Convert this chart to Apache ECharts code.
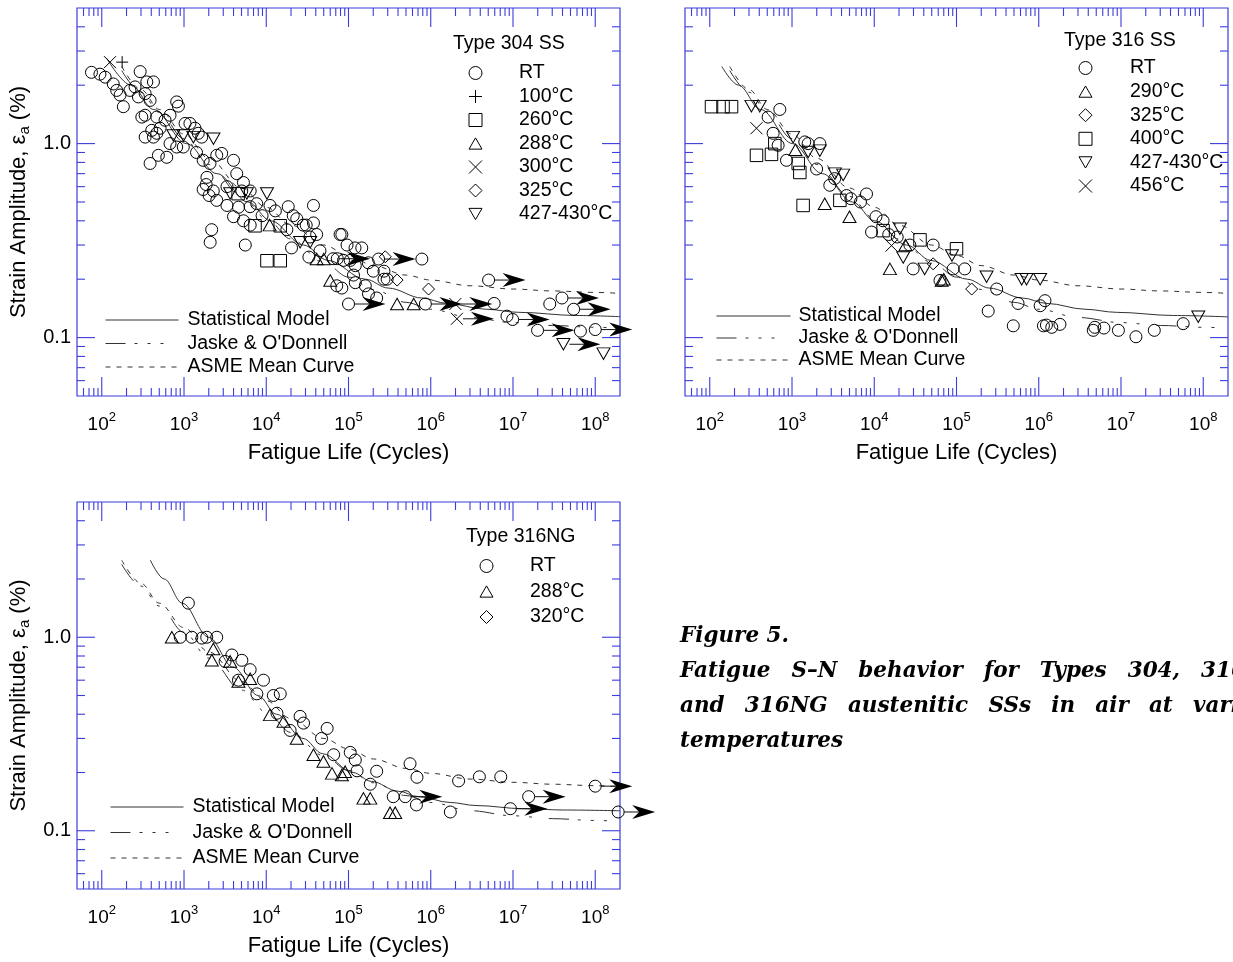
<!DOCTYPE html>
<html>
<head>
<meta charset="utf-8">
<script src="https://cdn.jsdelivr.net/npm/echarts@6/dist/echarts.min.js"></script>
<style>
html,body{margin:0;padding:0;background:#fff;}
#chart{width:1233px;height:962px;}
</style>
</head>
<body>
<div id="chart"></div>
<script>
// Points are [fatigue life (cycles), strain amplitude (%)]; "Run" arrays are run-outs (drawn with an arrow).

// ---- Type 304 SS ----
const rt304 = [
  [75,2.33],[95,2.28],[110,2.2],[138,2.03],[152,1.88],[167,1.78],[183,1.55],[220,1.88],[254,1.96],[279,1.74],
  [293,2.35],[353,2.08],[425,2.08],[337,1.81],[387,1.67],[337,1.40],[307,1.37],[467,1.37],[405,1.17],[467,1.13],
  [512,1.2],[588,1.32],[676,1.40],[815,1.64],[855,1.56],[1030,1.27],[1180,1.27],[1360,1.2],[1490,1.13],[1640,1.08],
  [980,0.96],[815,0.96],[676,1.0],[617,0.85],[488,0.87],[387,0.79],[337,1.08],[425,1.08],[1420,0.9],[1710,0.82],
  [2070,0.79],[2500,0.87],[2870,0.89],[4000,0.82],[4380,0.7],[1900,0.67],[1710,0.58],[2270,0.57],[3330,0.6],[5040,0.57],
  [6380,0.57],[5280,0.63],[1860,0.615],[2020,0.54],
  [2170,0.36],[2080,0.31],[5560,0.30],[2500,0.51],[3330,0.48],[4000,0.42],[5280,0.40],[4600,0.47],[7660,0.49],[11100,0.48],
  [6380,0.38],[17800,0.36],[23500,0.41],[28200,0.38],[37500,0.48],[37500,0.39],[41000,0.34],[34000,0.33],[20300,0.29],[33000,0.26],
  [79000,0.34],[96000,0.30],[72000,0.185],[83000,0.34],[120000,0.29],[145000,0.29],[87000,0.25],[105000,0.25],[115000,0.21],[83000,0.18],
  [160000,0.185],[175000,0.168],[220000,0.16],[200000,0.22],[270000,0.22],[270000,0.2],[295000,0.2],
  [6370,0.473],[8900,0.425],[12900,0.45],[18500,0.473],[21300,0.425],[30600,0.38],[45000,0.28],[73000,0.255],[121000,0.235],[174000,0.243],[121000,0.192],
  [780000,0.254],[5.9e6,0.15],[8.45e6,0.129],[2.8e7,0.149],[6.6e7,0.108]
];
const rt304Run = [[65000,0.255],[232000,0.254],[100000,0.149],[860000,0.149],[5.05e6,0.198],[9.9e6,0.124],[1.99e7,0.109],[3.94e7,0.16],[5.46e7,0.14],[1.0e8,0.11]];
const t100_304 = [[177,2.63]];
const t260_304 = [[10200,0.249],[14800,0.249],[7300,0.377],[14800,0.377],[4550,0.552]];
const t288_304 = [[390000,0.149],[620000,0.149],[41000,0.254],[60000,0.197],[11000,0.38],[50000,0.254]];
const t300_304 = [[126,2.63]];
const t300_304Run = [[1.99e6,0.149],[2.08e6,0.125]];
const t325_304 = [[390000,0.198],[940000,0.178],[280000,0.261]];
const t427_304 = [[743,1.10],[985,1.10],[1300,1.08],[2280,1.06],[3640,0.553],[5810,0.553],[10200,0.553],[25800,0.31],[34200,0.31],[1.26e8,0.0827]];
const t427_304Run = [[4.1e7,0.0924]];

// ---- Type 316 SS ----
const rt316 = [
  [711,1.5],[512,1.37],[589,1.13],[857,0.82],[1430,1.02],[1570,1.0],[2180,1.0],[1990,0.74],[2880,0.61],[4600,0.54],
  [8050,0.55],[678,0.98],[5200,0.52],[6800,0.5],[3300,0.66],[10500,0.42],[15000,0.34],[19000,0.33],
  [9270,0.35],[12800,0.40],[29700,0.226],[27100,0.30],[52000,0.30],[63000,0.197],[91000,0.226],[126000,0.226],
  [308000,0.178],[243000,0.137],[490000,0.115],[560000,0.150],[1.04e6,0.146],[1.19e6,0.155],[1.14e6,0.115],[1.24e6,0.116],
  [1.44e6,0.113],[1.81e6,0.117],[4.6e6,0.109],[4.8e6,0.113],[6.2e6,0.112],[9.3e6,0.109],[1.52e7,0.101],[2.54e7,0.109],[5.7e7,0.118]
];
const t290_316 = [[2500,0.49],[15500,0.226],[66000,0.197],[1100,0.93],[5000,0.42],[24000,0.3],[70000,0.2]];
const t325_316 = [[153000,0.178],[52000,0.24]];
const t400_316 = [[105,1.55],[145,1.55],[184,1.55],[370,0.87],[563,0.88],[618,1.0],[1190,0.79],[1245,0.71],[1365,0.48],[3820,0.51],[12800,0.356],[36000,0.319],[100000,0.287]];
const t427_316 = [[321,1.56],[405,1.56],[1030,1.08],[1570,0.905],[2180,0.92],[3320,0.70],[4190,0.69],[20500,0.364],[22500,0.259],[41000,0.226],[88000,0.265],[232000,0.206],[620000,0.2],[710000,0.2],[1.04e6,0.2],[8.7e7,0.128]];
const t456_316 = [[370,1.2],[16200,0.298]];

// ---- Type 316NG ----
const rtNG = [
  [1130,1.5],[900,1.0],[1245,1.0],[1650,0.99],[1890,1.0],[2500,1.0],[3820,0.81],[3160,0.75],[5050,0.76],[6370,0.68],
  [9250,0.60],[4590,0.6],[7690,0.51],[14800,0.51],[12200,0.50],[13500,0.405],[25800,0.39],[28400,0.36],[55000,0.338],[47000,0.30],
  [66000,0.247],[19500,0.33],[105000,0.254],[121000,0.232],[127000,0.204],[220000,0.203],[184000,0.174],[560000,0.222],[680000,0.189],
  [350000,0.15],[670000,0.136],[1.73e6,0.125],[2.18e6,0.181],[3.9e6,0.19],[7.1e6,0.19]
];
const rtNGRun = [[490000,0.15],[9.3e6,0.13],[1.55e7,0.15],[1.0e8,0.17],[1.9e8,0.125]];
const t288_NG = [[711,1.0],[2180,0.76],[2270,0.87],[3640,0.75],[4590,0.59],[6370,0.61],[11100,0.397],[16200,0.367],[23500,0.30],[37500,0.247],[49600,0.228],[63000,0.198],[83000,0.194],[91000,0.202],[152000,0.147],[184000,0.147],[320000,0.124],[370000,0.124]];
const t320_NG = [];

// ---- S-N curves ----
const stat304 = [[115,2.75],[228,2.0],[427,1.5],[1071,1.0],[2515,0.7],[6000,0.5],[11300,0.4],[28300,0.3],[56400,0.25],[160700,0.2],[305000,0.18],[779000,0.16],[1.58e6,0.15],[4.72e6,0.14],[1.16e7,0.135],[6.0e7,0.13],[2e8,0.1282]];
const stat316 = [[140,2.5],[224,2.0],[414,1.5],[1016,1.0],[2335,0.7],[5455,0.5],[10100,0.4],[24850,0.3],[48600,0.25],[135000,0.2],[252000,0.18],[631000,0.16],[1.26e6,0.15],[3.66e6,0.14],[8.78e6,0.135],[4.37e7,0.13],[2e8,0.1279]];
const statNG = [[390,2.5],[574,2.0],[953,1.5],[1996,1.0],[3963,0.7],[7990,0.5],[13300,0.4],[27950,0.3],[48650,0.25],[113000,0.2],[189800,0.18],[404600,0.16],[714000,0.15],[1.72e6,0.14],[3.55e6,0.135],[1.34e7,0.13],[4.15e7,0.128],[2e8,0.1268]];
const jaske = [[175,2.38],[300,1.84],[500,1.45],[1000,1.06],[2000,0.78],[5000,0.534],[10000,0.41],[20000,0.322],[50000,0.244],[100000,0.205],[200000,0.177],[500000,0.152],[1e6,0.14],[3e6,0.127],[1e7,0.1195],[3e7,0.1155],[1e8,0.113],[2e8,0.112]];
const asmeMean = [[175,2.5],[300,1.9],[500,1.5],[1000,1.12],[2000,0.84],[5000,0.59],[10000,0.47],[20000,0.38],[50000,0.30],[100000,0.265],[200000,0.235],[500000,0.21],[1e6,0.198],[3e6,0.185],[1e7,0.178],[3e7,0.174],[1e8,0.171],[2e8,0.169]];

// ---- axis labels ----
const xTickLabels = ['10{s|2}','10{s|3}','10{s|4}','10{s|5}','10{s|6}','10{s|7}','10{s|8}'];
const yTickLabels = {'-1':'0.1','0':'1.0'};

const FONT = 'Liberation Sans';
const BLUE = '#3c3cdc';
const INK = '#000';
const LINE = '#333';

const SYM = {
  circle: 'circle',
  plus: 'path://M5,0L5,10M0,5L10,5',
  cross: 'path://M0,0L10,10M10,0L0,10',
  square: 'rect',
  tri: 'path://M5,0L10,8.66L0,8.66Z',
  diamond: 'diamond',
  tdown: 'path://M0,0L10,0L5,8.66Z'
};
const SIZE = { circle: 12, plus: 12, cross: 12, square: 12.5, tri: [13, 11.5], diamond: 12, tdown: [13, 11.5] };

function decade(v) {
  const l = Math.log10(v);
  return Math.abs(l - Math.round(l)) < 1e-6 ? Math.round(l) : null;
}

const grids = [
  { left: 77, top: 8, width: 543, height: 388, show: true, borderColor: BLUE, borderWidth: 1.2, backgroundColor: 'transparent' },
  { left: 685, top: 8, width: 543, height: 388, show: true, borderColor: BLUE, borderWidth: 1.2, backgroundColor: 'transparent' },
  { left: 77, top: 502, width: 543, height: 387, show: true, borderColor: BLUE, borderWidth: 1.2, backgroundColor: 'transparent' }
];

const xAxes = grids.map((g, i) => ({
  type: 'log', logBase: 10, min: 50, max: 2e8, gridIndex: i,
  axisLine: { show: false }, axisTick: { show: false }, splitLine: { show: false },
  axisLabel: {
    margin: 15, fontSize: 19, lineHeight: 28, color: INK, fontFamily: FONT,
    formatter: v => { const d = decade(v); return (d !== null && d >= 2 && d <= 8) ? xTickLabels[d - 2] : ''; },
    rich: { s: { fontSize: 13, lineHeight: 13, verticalAlign: 'top', color: INK, fontFamily: FONT } }
  },
  name: 'Fatigue Life (Cycles)', nameLocation: 'middle', nameGap: 46,
  nameTextStyle: { fontSize: 22, color: INK, fontFamily: FONT }
}));

const yAxes = grids.map((g, i) => ({
  type: 'log', logBase: 10, min: 0.05, max: 5, gridIndex: i,
  axisLine: { show: false }, axisTick: { show: false }, splitLine: { show: false },
  axisLabel: {
    show: i !== 1, margin: 6, fontSize: 20, color: INK, fontFamily: FONT,
    formatter: v => { const d = decade(v); return d !== null && yTickLabels[String(d)] ? yTickLabels[String(d)] : ''; }
  },
  name: i !== 1 ? 'Strain Amplitude, ε{sub|a} (%)' : '',
  nameLocation: 'middle', nameGap: 45, nameRotate: 90,
  nameTextStyle: {
    fontSize: 22, lineHeight: 27, color: INK, fontFamily: FONT,
    rich: { sub: { fontSize: 15, lineHeight: 15, verticalAlign: 'bottom', color: INK, fontFamily: FONT } }
  }
}));

// frame ticks (decades long, 2..9 short) on all four sides of a panel
function tickSeries(gi) {
  return {
    type: 'custom', xAxisIndex: gi, yAxisIndex: gi, silent: true, clip: false, z: 6,
    data: [[1000, 1]],
    renderItem: (params, api) => {
      const cs = params.coordSys;
      const x0 = cs.x, y0 = cs.y, w = cs.width, h = cs.height;
      const kids = [];
      const seg = (x1, y1, x2, y2) => kids.push({ type: 'line', shape: { x1, y1, x2, y2 }, style: { stroke: BLUE, lineWidth: 1.1 } });
      for (let k = 1; k <= 8; k++) {
        for (let m = 1; m <= 9; m++) {
          const v = m * Math.pow(10, k);
          if (v <= 50.5 || v >= 1.99e8) continue;
          const px = api.coord([v, 1])[0];
          const len = m === 1 ? 19 : 8;
          seg(px, y0 + h, px, y0 + h - len);
          seg(px, y0, px, y0 + len);
        }
      }
      for (let k = -2; k <= 0; k++) {
        for (let m = 1; m <= 9; m++) {
          const v = m * Math.pow(10, k);
          if (v <= 0.0505 || v >= 4.99) continue;
          const py = api.coord([1000, v])[1];
          const len = m === 1 ? 18 : 8;
          seg(x0, py, x0 + len, py);
          seg(x0 + w, py, x0 + w - len, py);
        }
      }
      return { type: 'group', children: kids };
    }
  };
}

// run-out arrows starting at the specimen point
function arrowSeries(gi, pts) {
  return {
    type: 'custom', xAxisIndex: gi, yAxisIndex: gi, silent: true, clip: false, z: 4,
    data: pts,
    renderItem: (params, api) => {
      const p = api.coord([api.value(0), api.value(1)]);
      const x = p[0], y = p[1], tip = x + 37;
      return {
        type: 'group', children: [
          { type: 'line', shape: { x1: x + 6, y1: y, x2: tip - 16, y2: y }, style: { stroke: '#111', lineWidth: 1 } },
          { type: 'polygon', shape: { points: [[tip, y], [tip - 23, y - 7], [tip - 16, y], [tip - 23, y + 7]] }, style: { fill: '#000' } }
        ]
      };
    }
  };
}

function markSeries(gi, name, sym, data) {
  return {
    type: 'scatter', name: name, xAxisIndex: gi, yAxisIndex: gi,
    symbol: SYM[sym], symbolSize: SIZE[sym], data: data, z: 5, silent: true,
    itemStyle: { color: 'rgba(0,0,0,0)', borderColor: INK, borderWidth: 1, opacity: 1 }
  };
}

function curveSeries(gi, name, data, dash) {
  return {
    type: 'line', name: name, xAxisIndex: gi, yAxisIndex: gi, data: data,
    symbol: 'none', showSymbol: false, smooth: 0.35, smoothMonotone: 'x', z: 3, silent: true,
    itemStyle: { color: 'rgba(0,0,0,0)' },
    lineStyle: { color: LINE, width: 1, type: dash }
  };
}

const DASH_SOLID = 'solid';
const DASH_JASKE = [20, 9, 3, 10, 3, 10, 3, 17];
const DASH_ASME = [5, 6];

const series = [
  // Type 304 SS
  markSeries(0, 'RT|a', 'circle', rt304.concat(rt304Run)),
  markSeries(0, '100°C|a', 'plus', t100_304),
  markSeries(0, '260°C|a', 'square', t260_304),
  markSeries(0, '288°C|a', 'tri', t288_304),
  markSeries(0, '300°C|a', 'cross', t300_304.concat(t300_304Run)),
  markSeries(0, '325°C|a', 'diamond', t325_304),
  markSeries(0, '427-430°C|a', 'tdown', t427_304.concat(t427_304Run)),
  curveSeries(0, 'Statistical Model|a', stat304, DASH_SOLID),
  curveSeries(0, "Jaske & O'Donnell|a", jaske, DASH_JASKE),
  curveSeries(0, 'ASME Mean Curve|a', asmeMean, DASH_ASME),
  arrowSeries(0, rt304Run.concat(t300_304Run, t427_304Run)),
  tickSeries(0),
  // Type 316 SS
  markSeries(1, 'RT|b', 'circle', rt316),
  markSeries(1, '290°C|b', 'tri', t290_316),
  markSeries(1, '325°C|b', 'diamond', t325_316),
  markSeries(1, '400°C|b', 'square', t400_316),
  markSeries(1, '427-430°C|b', 'tdown', t427_316),
  markSeries(1, '456°C|b', 'cross', t456_316),
  curveSeries(1, 'Statistical Model|b', stat316, DASH_SOLID),
  curveSeries(1, "Jaske & O'Donnell|b", jaske, DASH_JASKE),
  curveSeries(1, 'ASME Mean Curve|b', asmeMean, DASH_ASME),
  tickSeries(1),
  // Type 316NG
  markSeries(2, 'RT|c', 'circle', rtNG.concat(rtNGRun)),
  markSeries(2, '288°C|c', 'tri', t288_NG),
  markSeries(2, '320°C|c', 'diamond', t320_NG),
  curveSeries(2, 'Statistical Model|c', statNG, DASH_SOLID),
  curveSeries(2, "Jaske & O'Donnell|c", jaske, DASH_JASKE),
  curveSeries(2, 'ASME Mean Curve|c', asmeMean, DASH_ASME),
  arrowSeries(2, rtNGRun),
  tickSeries(2)
];

function markLegend(names, left, top, step, gap) {
  return {
    data: names, orient: 'vertical', left: left, top: top, padding: 0, itemGap: 0,
    itemWidth: 13, itemHeight: 13, selectedMode: false, symbolKeepAspect: true,
    itemStyle: { borderWidth: 1, borderColor: INK, color: 'rgba(0,0,0,0)' },
    formatter: n => '{g| }' + n.split('|')[0],
    textStyle: { fontSize: 19.5, lineHeight: step, color: INK, fontFamily: FONT, rich: { g: { width: gap } } }
  };
}
function curveLegend(suffix, left, top, step, width, gap) {
  return {
    data: ['Statistical Model', "Jaske & O'Donnell", 'ASME Mean Curve'].map(n => n + '|' + suffix),
    orient: 'vertical', left: left, top: top, padding: 0, itemGap: 0,
    itemWidth: width, itemHeight: 13, selectedMode: false,
    itemStyle: { color: 'rgba(0,0,0,0)', borderWidth: 0 },
    lineStyle: { width: 1 },
    formatter: n => '{g| }' + n.split('|')[0],
    textStyle: { fontSize: 19.5, lineHeight: step, color: INK, fontFamily: FONT, rich: { g: { width: gap } } }
  };
}

const legends = [
  markLegend(['RT|a','100°C|a','260°C|a','288°C|a','300°C|a','325°C|a','427-430°C|a'], 468.5, 61.25, 23.5, 32),
  curveLegend('a', 105, 308.25, 23.5, 73, 4),
  markLegend(['RT|b','290°C|b','325°C|b','400°C|b','427-430°C|b','456°C|b'], 1078.5, 56.2, 23.6, 33),
  curveLegend('b', 716, 305, 22, 74, 3),
  markLegend(['RT|c','288°C|c','320°C|c'], 479.5, 553.25, 25.5, 32),
  curveLegend('c', 110, 794.25, 25.5, 73, 4)
];

const titles = [
  { text: 'Type 304 SS', left: 453, top: 33 },
  { text: 'Type 316 SS', left: 1064, top: 30 },
  { text: 'Type 316NG', left: 466, top: 526 }
].map(t => Object.assign(t, { padding: 0, textStyle: { fontSize: 19.5, lineHeight: 22, fontWeight: 'normal', color: INK, fontFamily: FONT } }));

// figure caption: words spread evenly between the first word's start and the last word's start
const CAP_FONT = 'italic bold 21.5px "DejaVu Serif"';
const captionLines = [
  { y: 636, from: 680, to: 680, words: ['Figure 5.'] },
  { y: 671, from: 680, to: 1201, words: ['Fatigue', 'S–N', 'behavior', 'for', 'Types', '304,', '316,'] },
  { y: 706, from: 680, to: 1193, words: ['and', '316NG', 'austenitic', 'SSs', 'in', 'air', 'at', 'various'] },
  { y: 741, from: 680, to: 680, words: ['temperatures'] }
];
const measure = document.createElement('canvas').getContext('2d');
measure.font = CAP_FONT;
const graphics = [];
captionLines.forEach(l => {
  const n = l.words.length;
  const widths = l.words.map(w => measure.measureText(w).width);
  const inner = widths.slice(0, n - 1).reduce((a, b) => a + b, 0);
  const gap = n > 1 ? (l.to - l.from - inner) / (n - 1) : 0;
  let x = l.from;
  l.words.forEach((w, i) => {
    graphics.push({
      type: 'text', x: x, y: l.y, silent: true,
      style: { text: w, font: CAP_FONT, fill: INK, verticalAlign: 'middle', align: 'left' }
    });
    x += widths[i] + gap;
  });
});

const chart = echarts.init(document.getElementById('chart'), null, { renderer: 'canvas' });
chart.setOption({
  animation: false,
  backgroundColor: '#fff',
  title: titles,
  legend: legends,
  grid: grids,
  xAxis: xAxes,
  yAxis: yAxes,
  series: series,
  graphic: graphics
});
</script>
</body>
</html>
